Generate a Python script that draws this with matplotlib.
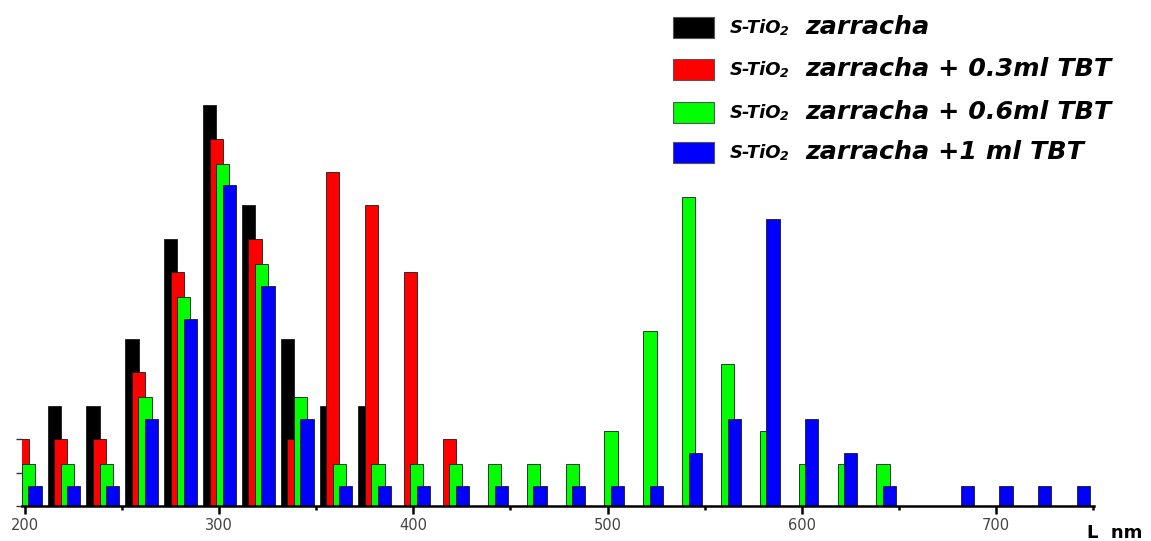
import matplotlib.pyplot as plt
from matplotlib.patches import Rectangle
import numpy as np

# centros de los intervalos (nm)
centros = list(range(200, 741, 20))

negro = [0, 3, 3, 5, 8, 12, 9, 5, 3, 3] + [0] * 18
rojo = [2, 2, 2, 4, 7, 11, 8, 2, 10, 9, 7, 2] + [0] * 16
verde = [1.25, 1.25, 1.25, 3.25, 6.25, 10.25, 7.25, 3.25, 1.25, 1.25, 1.25, 1.25,
         1.25, 1.25, 1.25, 2.25, 5.25, 9.25, 4.25, 2.25, 1.25, 1.25, 1.25] + [0] * 5
azul = [0.6, 0.6, 0.6, 2.6, 5.6, 9.6, 6.6, 2.6, 0.6, 0.6, 0.6, 0.6, 0.6, 0.6,
        0.6, 0.6, 0.6, 1.6, 2.6, 8.6, 2.6, 1.6, 0.6, 0, 0.6, 0.6, 0.6, 0.6]

series = [negro, rojo, verde, azul]
colores = ['#000000', '#ff0000', '#00ff00', '#0000ff']
nombres = ['zarracha', 'zarracha + 0.3ml TBT', 'zarracha + 0.6ml TBT', 'zarracha +1 ml TBT']

W, H = 1151, 541
fig = plt.figure(figsize=(W / 100, H / 100), dpi=100)
ax = fig.add_axes([22 / W, 35 / H, (1094 - 22) / W, 506 / H])

x = np.array(centros)
for i, (vals, col) in enumerate(zip(series, colores)):
    ax.bar(x - 4.9 + 3.37 * i, vals, width=6.8, color=col,
           edgecolor='#1a1a1a', linewidth=0.6, zorder=2 + i)

ax.set_xlim(198.5, 750.5)
ax.set_ylim(0, 506 / 33.4)

for s in ['top', 'right', 'left']:
    ax.spines[s].set_visible(False)
ax.spines['bottom'].set_linewidth(1.8)
ax.spines['bottom'].set_zorder(10)

ax.set_xticks([200, 300, 400, 500, 600, 700])
ax.set_xticks([250, 350, 450, 550, 650, 750], minor=True)
ax.tick_params(axis='x', which='major', length=6, width=1.8, colors='black',
               labelcolor='#444444', labelsize=10.5, pad=3)
ax.tick_params(axis='x', which='minor', length=3, width=1.8)
ax.set_yticks([0, 1, 2])
ax.set_yticklabels([])
ax.tick_params(axis='y', length=4, width=1, colors='#333333')

fig.text(1087 / W, 1 - 538 / H, 'L  nm', fontsize=13, fontweight='bold',
         ha='left', va='baseline')

# leyenda dibujada a mano (texto con dos tamaños)
filas = [28, 70, 113, 153]
for yc, col, nom in zip(filas, colores, nombres):
    fig.add_artist(Rectangle((673 / W, 1 - (yc + 10) / H), 41 / W, 21 / H,
                             facecolor=col, edgecolor='#555555', linewidth=0.8,
                             transform=fig.transFigure))
    fig.text(730 / W, 1 - (yc + 5) / H, 'S-TiO', fontsize=13,
             fontweight='bold', style='italic', ha='left', va='baseline')
    fig.text(780 / W, 1 - (yc + 7) / H, '2', fontsize=9,
             fontweight='bold', style='italic', ha='left', va='baseline')
    fig.text(805 / W, 1 - (yc + 6) / H, nom, fontsize=18.3,
             fontweight='bold', style='italic', ha='left', va='baseline')

fig.savefig('out.png', dpi=100)
